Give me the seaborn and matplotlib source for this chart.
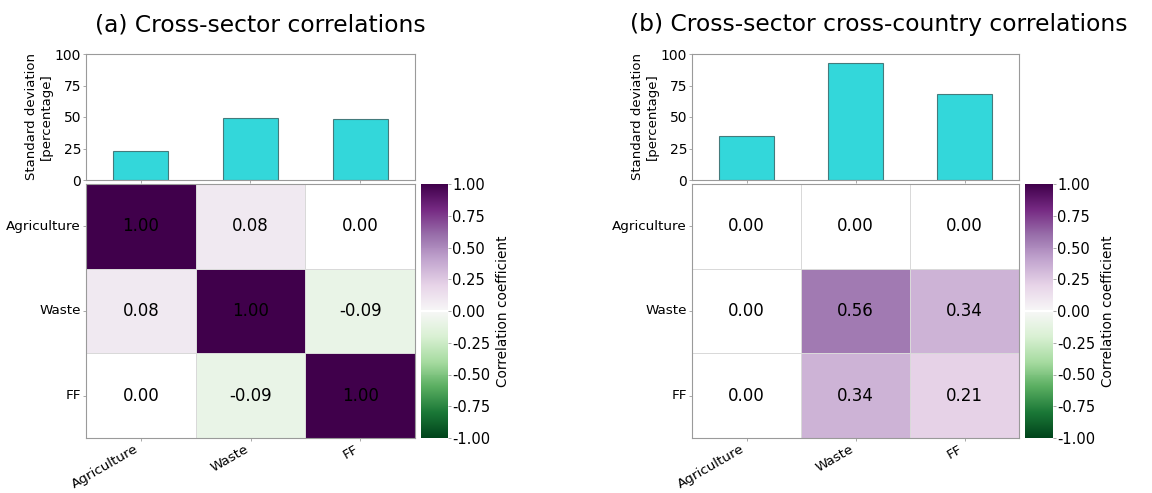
import numpy as np
import pandas as pd
import matplotlib
matplotlib.use("Agg")
import matplotlib.pyplot as plt
from matplotlib.colors import ListedColormap
import seaborn as sns

sns.set_style("white")
plt.rcParams["font.family"] = ["DejaVu Sans"]
plt.rcParams.update({"text.color": "black", "axes.labelcolor": "black",
                     "xtick.color": "black", "ytick.color": "black"})

sectors = ["Agriculture", "Waste", "FF"]

# standard deviation of each sector, percent
std_sector = [23, 49, 48.5]
std_country = [35, 93, 68]

# correlation matrices
corr_sector = [[1.00, 0.08, 0.00],
               [0.08, 1.00, -0.09],
               [0.00, -0.09, 1.00]]
corr_country = [[0.00, 0.00, 0.00],
                [0.00, 0.56, 0.34],
                [0.00, 0.34, 0.21]]

titles = ["(a) Cross-sector correlations",
          "(b) Cross-sector cross-country correlations"]

# purple for positive, green for negative, pure white at zero
base = plt.get_cmap("PRGn_r")(np.linspace(0, 1, 256))
base[127:129] = [1, 1, 1, 1]
corr_cmap = ListedColormap(base)

W, H = 1152, 493
fig = plt.figure(figsize=(W / 100, H / 100), dpi=100)


def box(x0, y0, x1, y1):
    return [x0 / W, 1 - y1 / H, (x1 - x0) / W, (y1 - y0) / H]


spine_col = "#9a9a9a"
panels = [
    dict(left=86, right=415, cb=(420.5, 448), title_x=260, std=std_sector, corr=corr_sector),
    dict(left=692, right=1019, cb=(1025, 1053), title_x=878.5, std=std_country, corr=corr_country),
]

for p, title in zip(panels, titles):
    ax_bar = fig.add_axes(box(p["left"], 54, p["right"], 180))
    ax_hm = fig.add_axes(box(p["left"], 184, p["right"], 438))
    ax_cb = fig.add_axes(box(p["cb"][0], 184, p["cb"][1], 438))

    sns.barplot(x=sectors, y=p["std"], ax=ax_bar, color="darkturquoise",
                saturation=1, alpha=0.8, width=0.5,
                edgecolor="#2f5f60", linewidth=0.8)
    ax_bar.set_ylim(0, 100)
    ax_bar.set_yticks([0, 25, 50, 75, 100])
    ax_bar.set_xlim(-0.5, 2.5)
    ax_bar.set_xticklabels([])
    ax_bar.set_ylabel("Standard deviation\n[percentage]", fontsize=9.5, labelpad=1)
    ax_bar.tick_params(axis="both", which="both", direction="out", length=2.5,
                       width=0.6, color=spine_col, labelsize=10, bottom=True, left=True)
    ax_bar.tick_params(axis="y", pad=1)
    for s in ax_bar.spines.values():
        s.set_color(spine_col)
        s.set_linewidth(0.8)

    df = pd.DataFrame(p["corr"], index=sectors, columns=sectors)
    sns.heatmap(df, ax=ax_hm, cbar_ax=ax_cb, cmap=corr_cmap, vmin=-1, vmax=1,
                annot=True, fmt=".2f", annot_kws={"fontsize": 12, "color": "black"},
                linewidths=0.5, linecolor="#d9d9d9",
                cbar_kws={"label": "Correlation coefficient",
                          "ticks": [-1, -0.75, -0.5, -0.25, 0, 0.25, 0.5, 0.75, 1]})
    for t in ax_hm.texts:
        t.set_color("black")
    ax_hm.set_xticklabels(sectors, rotation=30, ha="right", fontsize=9.7)
    ax_hm.set_yticklabels(sectors, rotation=0, fontsize=9.7)
    ax_hm.tick_params(axis="both", direction="out", length=2.5, width=0.6,
                      color=spine_col, bottom=True, left=True, pad=1)
    for s in ax_hm.spines.values():
        s.set_visible(True)
        s.set_color(spine_col)
        s.set_linewidth(0.8)

    ax_cb.yaxis.set_major_formatter(matplotlib.ticker.FormatStrFormatter("%.2f"))
    ax_cb.tick_params(labelsize=10.5, length=2, width=0.6, color=spine_col, pad=1)
    ax_cb.yaxis.label.set_size(9.8)
    for s in ax_cb.spines.values():
        s.set_visible(False)

    fig.text(p["title_x"] / W, 1 - 25 / H, title, ha="center", va="center", fontsize=16.8)

fig.savefig("out.png", dpi=100)
